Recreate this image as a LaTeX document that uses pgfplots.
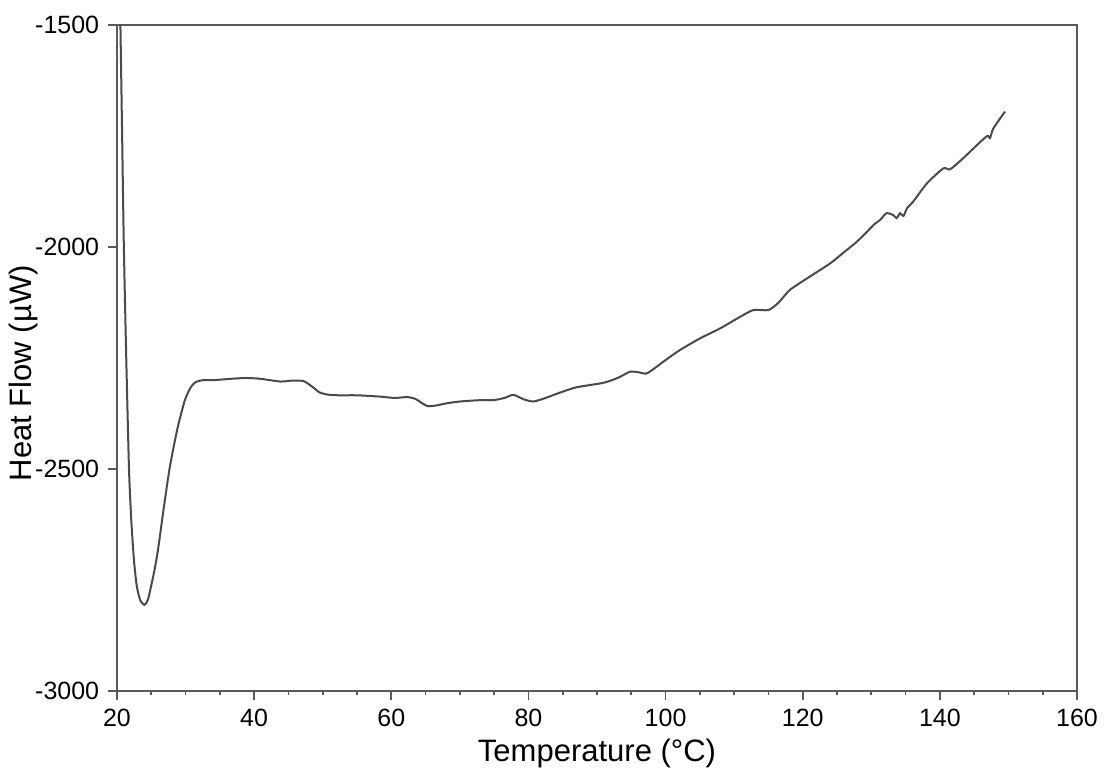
\documentclass[border=0pt]{standalone}
\usepackage{pgfplots}
\pgfplotsset{compat=1.18}
\usepackage{fontspec}
\setmainfont{Liberation Sans}
\definecolor{frame}{HTML}{5A5A5A}
\definecolor{curve}{HTML}{4A4A4A}

\begin{document}
\begin{tikzpicture}
\begin{axis}[
    name=ax,
    scale only axis,
    width=384pt,
    height=266.4pt,
    xmin=20, xmax=160,
    ymin=-3000, ymax=-1500,
    xtick={20,40,60,80,100,120,140,160},
    ytick={-3000,-2500,-2000,-1500},
    minor x tick num=3,
    tick align=outside,
    xtick pos=bottom,
    ytick pos=left,
    major tick length=3.6pt,
    minor tick length=1.8pt,
    axis line style={frame, line width=0.7pt},
    every tick/.style={frame, line width=0.7pt},
    /pgf/number format/assume math mode=true,
    /pgf/number format/1000 sep={},
    tick label style={font=\fontsize{10pt}{12pt}\selectfont},
    label style={font=\fontsize{12.4pt}{14pt}\selectfont},
    xlabel={Temperature (°C)},
    ylabel={Heat Flow (µW)},
    xlabel style={yshift=2pt},
    % rotated frame: +y points left
    ylabel style={at={(rel axis cs:0,0.477)}, anchor=south, yshift=28.2pt},
]
\addplot[curve, line width=0.8pt, smooth, tension=0.4] coordinates {
(20.5,-1500) (20.75,-1750) (21.0,-2000) (21.35,-2250) (21.75,-2500)
(22.1,-2620) (22.5,-2710) (22.9,-2765) (23.4,-2796) (24.0,-2806) (24.5,-2795)
(25.0,-2762) (25.5,-2725) (26.0,-2680) (26.8,-2590) (27.7,-2496)
(28.8,-2410) (29.9,-2345) (30.8,-2315) (31.5,-2304) (32.5,-2300)
(34.0,-2300) (36.5,-2297) (38.9,-2295) (41.0,-2297) (43.8,-2303)
(45.5,-2301) (47.2,-2302) (48.5,-2315) (49.6,-2328) (51.0,-2333)
(52.5,-2334) (55.0,-2334) (58.4,-2337) (60.5,-2340) (62.3,-2338)
(63.5,-2342) (65.2,-2358) (66.5,-2357) (68.1,-2352) (70.0,-2348)
(72.9,-2345) (74.9,-2345) (76.5,-2340) (77.8,-2333) (79.3,-2343)
(80.7,-2348) (82.5,-2340) (84.6,-2328) (87.0,-2316) (90.9,-2306)
(93.0,-2295) (94.8,-2281) (96.0,-2282) (97.2,-2285) (98.5,-2272)
(99.7,-2258) (102.0,-2233) (105.0,-2206) (108.0,-2183) (110.9,-2157)
(112.8,-2142) (115.0,-2142) (116.5,-2125) (118.1,-2097) (120.6,-2071)
(124.0,-2037) (126.0,-2012) (127.9,-1988) (129.6,-1962) (130.5,-1948)
(131.3,-1939) (132.2,-1924) (133.2,-1928) (133.7,-1935) (134.2,-1924)
(134.7,-1930) (135.2,-1913) (136.1,-1898) (138.1,-1857) (140.5,-1823)
(141.5,-1825) (143.4,-1800) (146.8,-1751) (147.3,-1755) (147.8,-1733)
(149.5,-1695)
};
\end{axis}
% keep the reference's margins around the axis
\path ([shift={(-46.8pt,-28.4pt)}]ax.south west) ([shift={(13.6pt,10pt)}]ax.north east);
\end{tikzpicture}
\end{document}
